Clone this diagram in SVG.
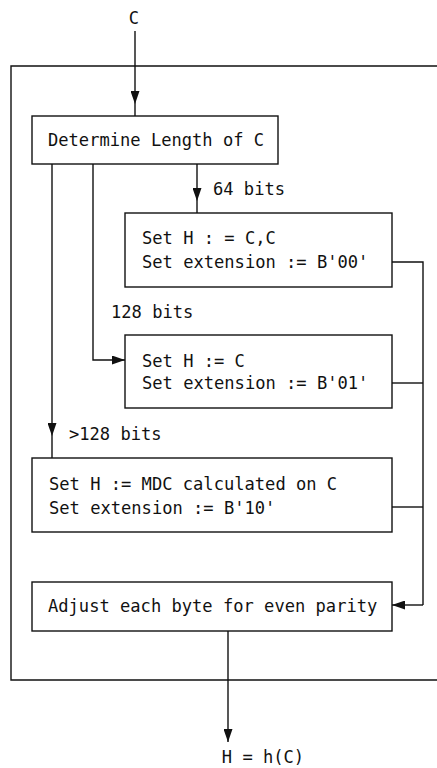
<svg xmlns="http://www.w3.org/2000/svg" width="437" height="768" viewBox="0 0 437 768">
<style>
  text { font-family: "DejaVu Sans Mono", "Liberation Mono", monospace; font-size: 17.1px; fill: #111; }
  .box { fill: #fff; stroke: #111; stroke-width: 1.4; }
  .ln { fill: none; stroke: #111; stroke-width: 1.4; }
</style>
<defs>
  <marker id="ah" viewBox="0 0 13 9" refX="13" refY="4.5" markerWidth="13" markerHeight="9" markerUnits="userSpaceOnUse" orient="auto">
    <path d="M0,0 L13,4.5 L0,9 Z" fill="#111"/>
  </marker>
</defs>
<rect width="437" height="768" fill="#fff"/>
<g id="frame">
  <path class="ln" d="M437,66 H11 V680 H437"/>
</g>
<g id="connectors">
  <path class="ln" d="M135,31 V104" marker-end="url(#ah)"/>
  <path class="ln" d="M135,104 V116"/>
  <path class="ln" d="M197,164 V201" marker-end="url(#ah)"/>
  <path class="ln" d="M197,201 V213"/>
  <path class="ln" d="M93,164 V360 H125" marker-end="url(#ah)"/>
  <path class="ln" d="M52,164 V436" marker-end="url(#ah)"/>
  <path class="ln" d="M52,436 V458"/>
  <path class="ln" d="M392,262 H423 V605"/>
  <path class="ln" d="M392,383 H423"/>
  <path class="ln" d="M392,507 H423"/>
  <path class="ln" d="M423,605 H392" marker-end="url(#ah)"/>
  <path class="ln" d="M228,631 V742" marker-end="url(#ah)"/>
</g>
<g id="input"><text x="134" y="24" text-anchor="middle">C</text></g>
<g id="determine">
  <rect class="box" x="32" y="116" width="246" height="48"/>
  <text x="48" y="146">Determine Length of C</text>
</g>
<g id="label64"><text x="213" y="195">64 bits</text></g>
<g id="set64">
  <rect class="box" x="125" y="213" width="267" height="74"/>
  <text x="142" y="244">Set H : = C,C</text>
  <text x="142" y="268">Set extension := B'00'</text>
</g>
<g id="label128"><text x="111" y="318">128 bits</text></g>
<g id="set128">
  <rect class="box" x="125" y="335" width="267" height="73"/>
  <text x="142" y="367">Set H := C</text>
  <text x="142" y="389">Set extension := B'01'</text>
</g>
<g id="labelgt128"><text x="69" y="440">&gt;128 bits</text></g>
<g id="setmdc">
  <rect class="box" x="32" y="458" width="360" height="74"/>
  <text x="49" y="490">Set H := MDC calculated on C</text>
  <text x="49" y="514">Set extension := B'10'</text>
</g>
<g id="adjust">
  <rect class="box" x="32" y="582" width="360" height="49"/>
  <text x="48" y="612">Adjust each byte for even parity</text>
</g>
<g id="output"><text x="263" y="763" text-anchor="middle">H = h(C)</text></g>
</svg>
